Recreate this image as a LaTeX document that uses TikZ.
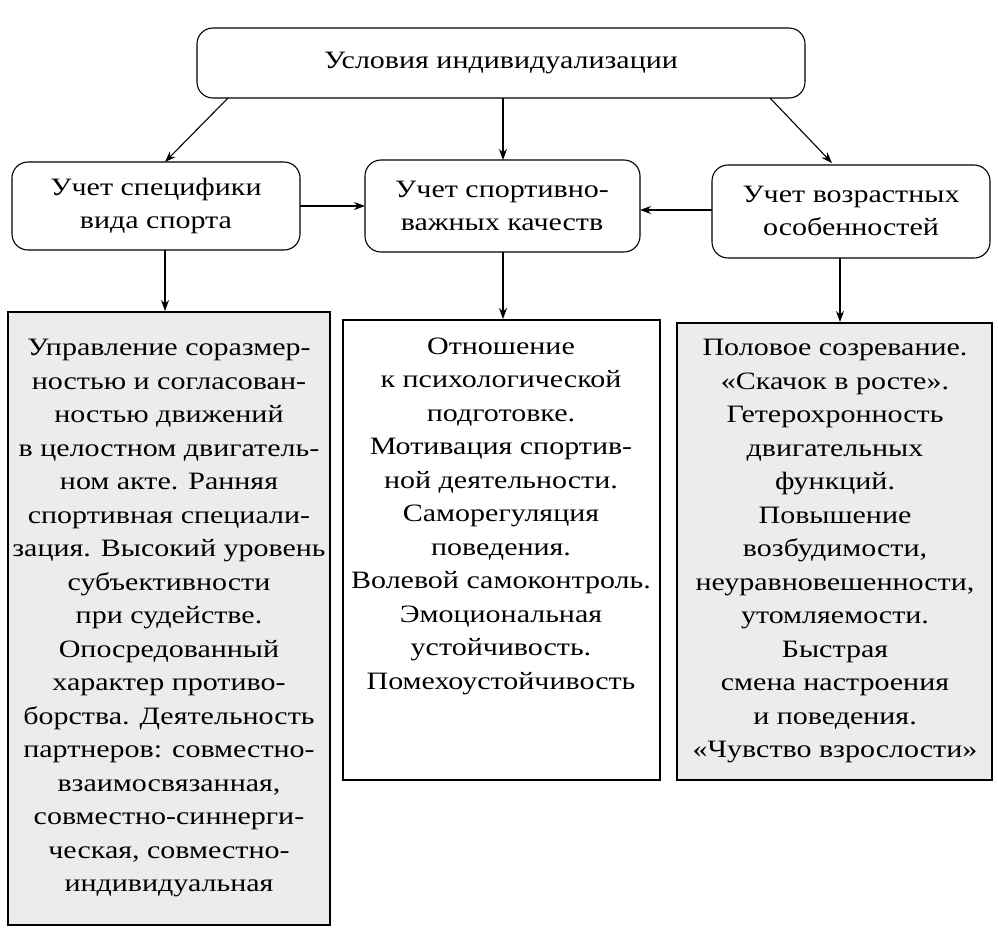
\documentclass[tikz,border=0pt]{standalone}
\usepackage{fontspec}
\setmainfont{Liberation Serif}[FakeStretch=1.2]
\usetikzlibrary{arrows.meta}
\begin{document}
\begin{tikzpicture}[x=1pt,y=-1pt,
  txt/.style={font=\fontsize{25}{33.5}\selectfont,align=center},
  rbox/.style={draw,line width=1.1pt,rounded corners=16pt,txt},
  sbox/.style={draw,line width=1.3pt,txt},
  arr/.style={-{Stealth[length=11pt,width=8pt]},line width=1.1pt}]
\useasboundingbox (0,0) rectangle (998,938);
\draw[rbox] (197,28) rectangle (805,98);
\node[txt] (top) at (501,63) {Условия индивидуализации};
\coordinate (tl) at (228,98); \coordinate (tm) at (503,98); \coordinate (tr) at (770,98);
\draw[rbox] (12,162) rectangle (300,250);
\node[txt] (a) at (156,206) {Учет специфики\\вида спорта};
\draw[rbox] (365,160) rectangle (640,252);
\node[txt] (b) at (502,206) {Учет спортивно-\\важных качеств};
\draw[rbox] (712,165) rectangle (990,258);
\node[txt] (c) at (851,211) {Учет возрастных\\особенностей};
\coordinate (ain) at (165,162); \coordinate (bin) at (503,160); \coordinate (cin) at (832,163);
\draw[arr] (tl) -- (ain);
\draw[arr] (tm) -- (bin);
\draw[arr] (tr) -- (cin);
\coordinate (ar) at (300,206); \coordinate (bl) at (365,206);
\coordinate (cl) at (712,210); \coordinate (br) at (640,210);
\draw[arr] (ar) -- (bl);
\draw[arr] (cl) -- (br);
\draw[sbox,fill=gray!15] (8,312) rectangle (330,925);
\node[txt] (d) at (169,618) {Управление соразмер-\\ностью и согласован-\\ностью движений\\в целостном двигатель-\\ном акте. Ранняя\\спортивная специали-\\зация. Высокий уровень\\субъективности\\при судействе.\\Опосредованный\\характер противо-\\борства. Деятельность\\партнеров: совместно-\\взаимосвязанная,\\совместно-синнерги-\\ческая, совместно-\\индивидуальная};
\draw[sbox,fill=white] (343,320) rectangle (660,780);
\node[txt] (e) at (501,516) {Отношение\\к психологической\\подготовке.\\Мотивация спортив-\\ной деятельности.\\Саморегуляция\\поведения.\\Волевой самоконтроль.\\Эмоциональная\\устойчивость.\\Помехоустойчивость};
\draw[sbox,fill=gray!15] (677,323) rectangle (992,780);
\node[txt] (f) at (835,551) {Половое созревание.\\«Скачок в росте».\\Гетерохронность\\двигательных\\функций.\\Повышение\\возбудимости,\\неуравновешенности,\\утомляемости.\\Быстрая\\смена настроения\\и поведения.\\«Чувство взрослости»};
\coordinate (a1) at (165,250); \coordinate (d1) at (165,311);
\coordinate (b1) at (503,252); \coordinate (e1) at (503,319);
\coordinate (c1) at (840,258); \coordinate (f1) at (840,322);
\draw[arr] (a1) -- (d1);
\draw[arr] (b1) -- (e1);
\draw[arr] (c1) -- (f1);
\end{tikzpicture}
\end{document}
